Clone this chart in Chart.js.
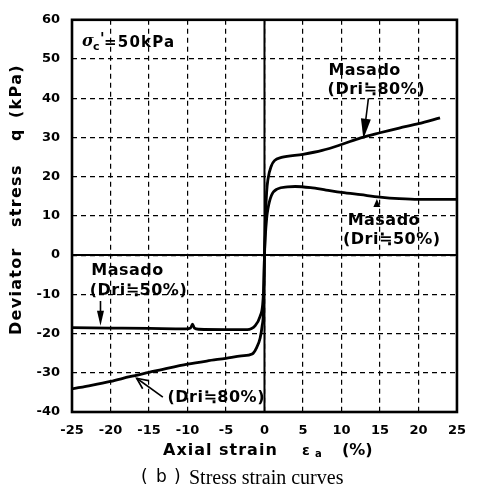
<!DOCTYPE html>
<html>
<head>
<meta charset="utf-8">
<script src="https://cdn.jsdelivr.net/npm/chart.js@4"></script>
<style>
  html, body { margin: 0; padding: 0; background: #fff; }
  #box { width: 477px; height: 487px; }
</style>
</head>
<body>
<div id="box"><canvas id="stressChart"></canvas></div>
<script>
//--- Data (axial strain %, deviator stress kPa)
var strainDri80 = [-25, -22.5, -20, -17.5, -15, -12.5, -10, -7.5, -5, -3, -1.6, -1.0, -0.57, -0.3, -0.15, 0,
    0.1, 0.28, 0.45, 0.9, 1.3, 2.2, 5, 7.5, 10, 12.5, 15, 17.5, 20, 22.8];
var qDri80 = [-34.1, -33.2, -32.2, -31.0, -29.9, -28.8, -27.8, -27.0, -26.3, -25.7, -25.2, -23.5, -21.2, -18, -14.7, 0,
    8, 16, 19.3, 22.8, 24.1, 24.9, 25.7, 26.7, 28.2, 29.9, 31.2, 32.4, 33.5, 35];

var strainDri50 = [-25, -20, -15, -10.2, -9.6, -9.35, -9.1, -8.5, -5, -2.25, -1.2, -0.57, -0.23, -0.08, 0,
    0.1, 0.28, 0.45, 0.9, 1.7, 3, 4, 6, 8, 10, 12.5, 15, 17.5, 20, 25];
var qDri50 = [-18.5, -18.6, -18.7, -18.8, -18.6, -17.6, -18.6, -18.9, -19.0, -19.0, -18.0, -15.6, -12.5, -7, 0,
    4.5, 9.3, 11.8, 15.2, 16.9, 17.4, 17.5, 17.2, 16.6, 16.0, 15.4, 14.8, 14.4, 14.2, 14.2];

var xTicks = [-25, -20, -15, -10, -5, 0, 5, 10, 15, 20, 25];
var yTicks = [-40, -30, -20, -10, 0, 10, 20, 30, 40, 50, 60];

var sansBold = 'bold 16px "DejaVu Sans", sans-serif';

function toPoints(xs, ys) {
    var pts = [];
    for (var i = 0; i < xs.length; i++) {
        pts.push({ x: xs[i], y: ys[i] });
    }
    return pts;
}

//--- arrow helpers (positions given in data units)
function arrow(ctx, sx, sy, x0, y0, x1, y1, head, open) {
    var ax = sx.getPixelForValue(x0), ay = sy.getPixelForValue(y0);
    var bx = sx.getPixelForValue(x1), by = sy.getPixelForValue(y1);
    var ang = Math.atan2(by - ay, bx - ax);
    var len = head[0], half = head[1];
    ctx.lineWidth = 1.6;
    ctx.beginPath();
    ctx.moveTo(ax, ay);
    ctx.lineTo(bx - Math.cos(ang) * (open ? 0 : len * 0.6), by - Math.sin(ang) * (open ? 0 : len * 0.6));
    ctx.stroke();
    var lx = bx - Math.cos(ang) * len, ly = by - Math.sin(ang) * len;
    var px = -Math.sin(ang) * half, py = Math.cos(ang) * half;
    ctx.beginPath();
    ctx.moveTo(lx + px, ly + py);
    ctx.lineTo(bx, by);
    ctx.lineTo(lx - px, ly - py);
    if (open) {
        ctx.stroke();
    } else {
        ctx.closePath();
        ctx.fill();
    }
}

function label(ctx, sx, sy, text, xv, yv) {
    ctx.fillText(text, sx.getPixelForValue(xv), sy.getPixelForValue(yv));
}

var decorPlugin = {
    id: 'decor',
    afterDatasetsDraw: function (chart) {
        var ctx = chart.ctx;
        var a = chart.chartArea;
        var sx = chart.scales.x, sy = chart.scales.y;
        ctx.save();
        ctx.strokeStyle = '#000';
        ctx.fillStyle = '#000';

        // zero lines
        ctx.lineWidth = 2;
        ctx.beginPath();
        ctx.moveTo(a.left, sy.getPixelForValue(0));
        ctx.lineTo(a.right, sy.getPixelForValue(0));
        ctx.moveTo(sx.getPixelForValue(0), a.top);
        ctx.lineTo(sx.getPixelForValue(0), a.bottom);
        ctx.stroke();

        // frame
        ctx.lineWidth = 2.6;
        ctx.strokeRect(a.left, a.top, a.right - a.left, a.bottom - a.top);

        // sigma label
        ctx.textBaseline = 'middle';
        ctx.textAlign = 'left';
        ctx.font = 'bold italic 16px "DejaVu Serif", serif';
        ctx.fillText('σ', 82, 42);
        ctx.font = 'bold 11px "DejaVu Sans", sans-serif';
        ctx.fillText('c', 93, 47);
        ctx.font = 'bold 15px "DejaVu Sans", sans-serif';
        ctx.fillText("'", 100, 40);
        ctx.letterSpacing = '1.2px';
        ctx.fillText('=50kPa', 104, 43);

        // curve labels
        ctx.font = sansBold;
        ctx.letterSpacing = '0.5px';
        label(ctx, sx, sy, 'Masado', 8.3, 46.9);
        label(ctx, sx, sy, '(Dri≒80%)', 8.2, 42.1);
        label(ctx, sx, sy, 'Masado', 10.8, 8.7);
        label(ctx, sx, sy, '(Dri≒50%)', 10.2, 3.9);
        label(ctx, sx, sy, 'Masado', -22.5, -4.1);
        label(ctx, sx, sy, '(Dri≒50%)', -22.7, -9.2);
        label(ctx, sx, sy, '(Dri≒80%)', -12.6, -36.4);
        ctx.letterSpacing = '0px';

        arrow(ctx, sx, sy, 13.5, 40.0, 12.85, 29.7, [20, 5], false);
        arrow(ctx, sx, sy, 14.6, 12.4, 14.6, 14.3, [8, 3.5], false);
        arrow(ctx, sx, sy, -21.3, -11.7, -21.3, -18.0, [15, 3.5], false);
        arrow(ctx, sx, sy, -13.2, -36.2, -16.6, -31.4, [11, 5], true);

        // y axis title, read bottom to top
        var yParts = [['Deviator', 335], ['stress', 227], ['q', 141], ['(kPa)', 118]];
        ctx.font = sansBold;
        ctx.letterSpacing = '1.3px';
        yParts.forEach(function (p) {
            ctx.save();
            ctx.translate(17, p[1]);
            ctx.rotate(-Math.PI / 2);
            ctx.fillText(p[0], 0, 0);
            ctx.restore();
        });

        // x axis title
        ctx.letterSpacing = '1px';
        ctx.fillText('Axial strain', 163, 451);
        ctx.letterSpacing = '0px';
        ctx.font = 'bold 14px "DejaVu Sans", sans-serif';
        ctx.fillText('ε', 302, 451);
        ctx.font = 'bold 10px "DejaVu Sans", sans-serif';
        ctx.fillText('a', 315, 454);
        ctx.font = sansBold;
        ctx.fillText('(%)', 342, 451);

        // caption
        ctx.font = '17px "DejaVu Sans", sans-serif';
        ctx.fillText('(', 141, 478);
        ctx.fillText('b', 156, 478);
        ctx.fillText(')', 174, 478);
        ctx.font = '20px "Liberation Serif", serif';
        ctx.fillText('Stress strain curves', 189, 479);
        ctx.restore();
    }
};

var tickFont = { family: '"DejaVu Sans", sans-serif', size: 13, weight: 'bold' };

new Chart(document.getElementById('stressChart'), {
    type: 'line',
    data: {
        datasets: [{
            label: 'Masado (Dri≒80%)',
            data: toPoints(strainDri80, qDri80),
            borderColor: '#000',
            borderWidth: 2.8,
            pointRadius: 0,
            cubicInterpolationMode: 'monotone'
        }, {
            label: 'Masado (Dri≒50%)',
            data: toPoints(strainDri50, qDri50),
            borderColor: '#000',
            borderWidth: 2.8,
            pointRadius: 0,
            cubicInterpolationMode: 'monotone'
        }]
    },
    options: {
        responsive: true,
        maintainAspectRatio: false,
        animation: false,
        devicePixelRatio: 1,
        layout: { padding: { left: 0, right: 10, top: 16, bottom: 0 } },
        plugins: { legend: { display: false }, tooltip: { enabled: false } },
        scales: {
            x: {
                type: 'linear',
                min: -25,
                max: 25,
                afterBuildTicks: function (scale) {
                    scale.ticks = xTicks.map(function (v) { return { value: v }; });
                },
                afterFit: function (scale) { scale.height = 75; },
                ticks: { color: '#000', font: tickFont, padding: 11, maxRotation: 0 },
                grid: { color: '#000', lineWidth: 1.2, drawTicks: false },
                border: { display: false, dash: [5, 4] }
            },
            y: {
                type: 'linear',
                min: -40,
                max: 60,
                afterBuildTicks: function (scale) {
                    scale.ticks = yTicks.map(function (v) { return { value: v }; });
                },
                afterFit: function (scale) { scale.width = 72; },
                ticks: { color: '#000', font: tickFont, padding: 12 },
                grid: { color: '#000', lineWidth: 1.2, drawTicks: false },
                border: { display: false, dash: [5, 4] }
            }
        }
    },
    plugins: [decorPlugin]
});
</script>
</body>
</html>
